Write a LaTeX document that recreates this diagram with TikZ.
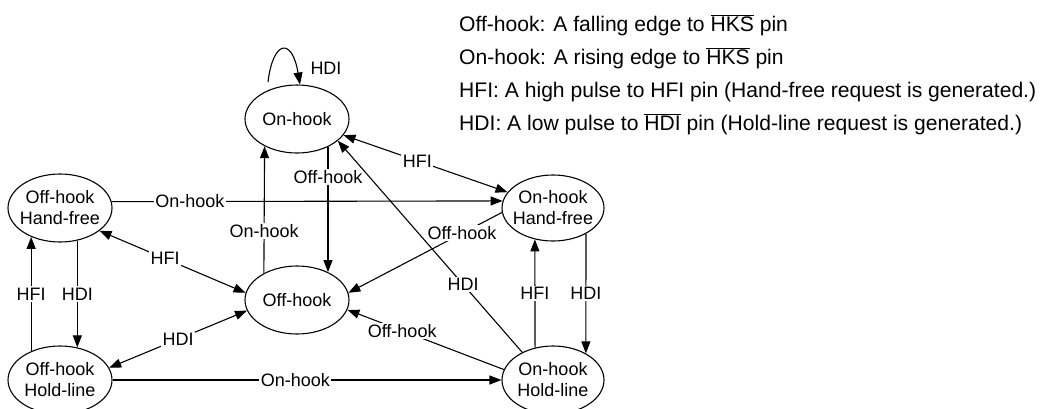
\documentclass[tikz,border=0pt]{standalone}
\usepackage{fontspec}
\setmainfont{Liberation Sans}
\usetikzlibrary{arrows.meta,shapes.geometric}
\newcommand{\ovl}[1]{\ensuremath{\overline{\mbox{#1}}}}
\begin{document}
\begin{tikzpicture}[x=1pt,y=-1pt,
  >={Triangle[length=12pt,width=9pt]},
  every node/.style={font=\fontsize{18}{21}\selectfont},
  st/.style={draw, ellipse, line width=1.1pt, minimum width=104pt, minimum height=68pt,
    inner xsep=-14pt, inner ysep=-8pt, align=center},
  conn/.style={line width=1.1pt},
  lbl/.style={fill=white, inner sep=1.5pt},
  legend/.style={anchor=base west, font=\fontsize{21.1}{24}\selectfont, inner sep=0pt}
]
\useasboundingbox (0,0) rectangle (1045,408);

% states
\node[st] (onhook) at (297,119) {On-hook};
\node[st] (offhook) at (297,300) {Off-hook};
\node[st] (ohf) at (60,208) {Off-hook\\Hand-free};
\node[st] (ohl) at (60,380) {Off-hook\\Hold-line};
\node[st, minimum width=102pt, minimum height=66pt] (nhf) at (553,208) {On-hook\\Hand-free};
\node[st, minimum width=102pt] (nhl) at (553,380) {On-hook\\Hold-line};

% self loop
\coordinate (ls) at (268,82);
\draw[conn,->] (ls) .. controls (273,40) and (292,37) .. (onhook.85);
\node (hdiloop) at (326,68) {HDI};

% verticals between On-hook and Off-hook
\draw[conn,->] (offhook.141) -- node[lbl, pos=0.33] {On-hook} (onhook.-140);
\draw[conn,->] (onhook.-42.8) -- node[lbl, pos=0.24] {Off-hook} (offhook.42);

% top horizontal
\draw[conn,->] (ohf.7.8) -- node[lbl, pos=0.2] {On-hook} (nhf.172.2);

% HFI On-hook <-> On-hook Hand-free
\draw[conn,<->] (onhook) -- node[lbl, pos=0.45] {HFI} (nhf);

% left diagonals
\draw[conn,<->] (ohf.-30) -- node[lbl, pos=0.45] {HFI} (offhook.172);
\draw[conn,<->] (offhook.-168.7) -- node[lbl, pos=0.5] {HDI} (ohl.14);

% left verticals
\draw[conn,->] (ohl.135.8) -- node[lbl, pos=0.5] {HFI} (ohf.-135.8);
\draw[conn,->] (ohf.-62.1) -- node[lbl, pos=0.5] {HDI} (ohl.62.1);

% right verticals
\draw[conn,->] (nhl.119.5) -- node[lbl, pos=0.5] {HFI} (nhf.-120.2);
\draw[conn,->] (nhf.-38.8) -- node[lbl, pos=0.5] {HDI} (nhl.39.6);

% right diagonals
\draw[conn,->] (nhf.-175.4) -- node[lbl, pos=0.26] {Off-hook} (offhook.8);
\draw[conn,->] (nhl.138) -- node[lbl, pos=0.32] {HDI} (onhook.-28.1);
\draw[conn,->] (nhl.168.7) -- node[lbl, pos=0.65] {Off-hook} (offhook.-11.3);

% bottom horizontal
\draw[conn,->] (ohl) -- node[lbl, pos=0.47] {On-hook} (nhl);

% legend
\node[legend] (lg1) at (459,31) {Off-hook: A falling edge to \ovl{HKS} pin};
\node[legend] (lg2) at (459,64) {On-hook: A rising edge to \ovl{HKS} pin};
\node[legend] (lg3) at (459,97) {HFI: A high pulse to HFI pin (Hand-free request is generated.)};
\node[legend] (lg4) at (459,130) {HDI: A low pulse to \ovl{HDI} pin (Hold-line request is generated.)};
\end{tikzpicture}
\end{document}
